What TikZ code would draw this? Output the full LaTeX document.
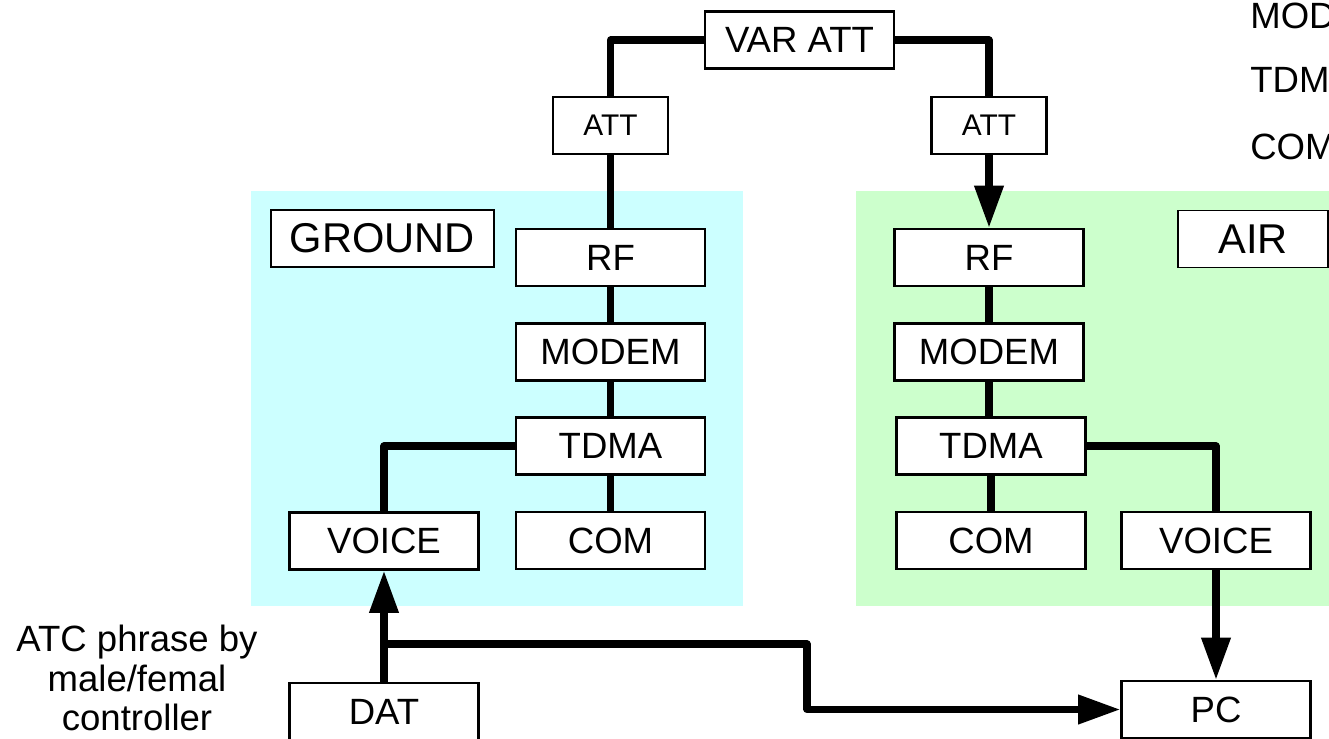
\documentclass[tikz,border=0pt]{standalone}
\usepackage{fontspec}
\setmainfont{Liberation Sans}
\usepackage{xcolor}
\usetikzlibrary{arrows.meta}

\definecolor{groundbg}{HTML}{CCFFFF}
\definecolor{airbg}{HTML}{CCFFCC}

\tikzset{
  blk/.style={draw, line width=1.5pt, fill=white, inner sep=0pt,
    minimum width=3.78cm, minimum height=1.14cm,
    font=\fontsize{20.8}{25}\selectfont},
  att/.style={blk, minimum width=2.3cm, font=\fontsize{17}{20}\selectfont},
  tag/.style={draw, line width=1pt, fill=white, inner sep=0pt,
    minimum height=1.14cm, font=\fontsize{23.7}{28}\selectfont},
  legend/.style={anchor=west, inner sep=0pt, font=\fontsize{20.8}{25}\selectfont},
  wire/.style={line width=4pt, line join=round},
  arr/.style={wire, -{Triangle[length=24pt,width=16pt]}},
}

\begin{document}
\begin{tikzpicture}[x=0.02cm, y=-0.02cm]
\useasboundingbox (0,0) rectangle (1329,738);
\clip (0,0) rectangle (1329,738);

% station areas
\fill[groundbg] (251,191) rectangle (743,606);
\fill[airbg] (856,191) rectangle (1329,606);
\node[tag, minimum width=4.46cm] (ground) at (382.5,238.5) {GROUND};
\node[tag, minimum width=3cm] (air) at (1253,239) {AIR};

% channel
\node[blk] (varatt) at (799.5,40) {VAR ATT};
\node[att] (attg) at (610.5,125.5) {ATT};
\node[att] (atta) at (989,125.5) {ATT};

% ground stack
\node[blk] (rfg) at (610.5,257.5) {RF};
\node[blk] (modemg) at (610.5,352) {MODEM};
\node[blk] (tdmag) at (610.5,446) {TDMA};
\node[blk] (comg) at (610.5,540.5) {COM};
\node[blk] (voiceg) at (384,541) {VOICE};
\node[blk] (dat) at (384,711.5) {DAT};

% air stack
\node[blk] (rfa) at (989,257.5) {RF};
\node[blk] (modema) at (989,352) {MODEM};
\node[blk] (tdmaa) at (991,446) {TDMA};
\node[blk] (coma) at (991,540.5) {COM};
\node[blk] (voicea) at (1216,540.5) {VOICE};
\node[blk] (pc) at (1216,709.5) {PC};

\node[align=center, font=\fontsize{20.8}{22.7}\selectfont] (phrase) at (137,678)
  {ATC phrase by\\male/femal\\controller};

% legend, runs off the right edge
\node[legend] (legmod) at (1250,16) {MOD};
\node[legend] (legtdm) at (1250,80) {TDM};
\node[legend] (legcom) at (1250,147) {COM};

\draw[wire] (varatt.west) -| (attg.north);
\draw[wire] (varatt.east) -| (atta.north);
\draw[wire] (attg) -- (rfg);
\draw[arr] (atta) -- (rfa);

\draw[wire] (rfg) -- (modemg);
\draw[wire] (modemg) -- (tdmag);
\draw[wire] (tdmag) -- (comg);
\draw[wire] (tdmag.west) -| (voiceg.north);

\draw[wire] (rfa) -- (modema);
\draw[wire] (modema.south) -- (modema.south |- tdmaa.north);
\draw[wire] (tdmaa.south) -- (tdmaa.south |- coma.north);
\draw[wire] (tdmaa.east) -| (voicea.north);
\draw[arr] (voicea) -- (pc);

\draw[arr] (dat) -- (voiceg);
\coordinate (split) at (384,644);
\coordinate (bend) at (807,709.5);
\draw[arr] (split) -| (bend) -- (pc.west);

\end{tikzpicture}
\end{document}
